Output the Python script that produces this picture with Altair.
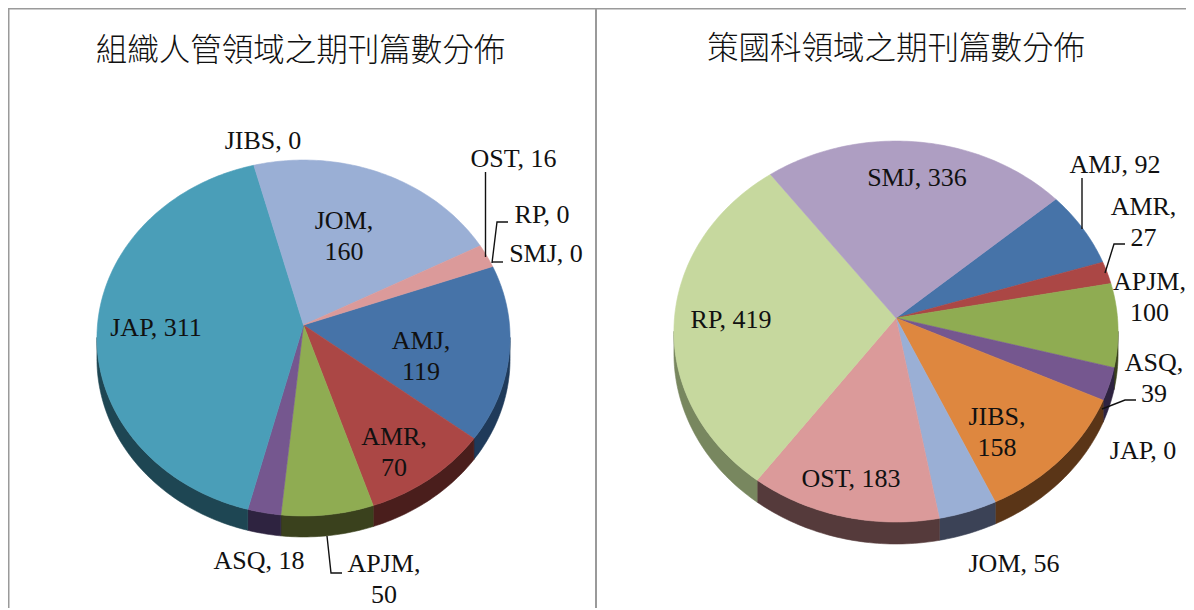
import math
import altair as alt
import pandas as pd

# ---- data ----
categories = ["AMJ", "AMR", "APJM", "ASQ", "JAP", "JIBS", "JOM", "OST", "RP", "SMJ"]
org_values = [119, 70, 50, 18, 311, 0, 160, 16, 0, 0]
strategy_values = [92, 27, 100, 39, 0, 158, 56, 183, 419, 336]
org_title = "組織人管領域之期刊篇數分佈"
strategy_title = "策國科領域之期刊篇數分佈"
top_colors = ["#4673A8", "#AB4745", "#8FAC52", "#75578F", "#4A9EB8", "#DE873F",
              "#9AAFD5", "#DB9A9A", "#C6D89E", "#AE9EC2"]
side_colors = ["#1F3A5A", "#4A1E1C", "#3A411D", "#2E2340", "#1E4653", "#5A3517",
               "#3B4256", "#553A3B", "#78875F", "#5A5068"]

# ---- layout (image pixels) ----
LEFT = dict(cx=303.5, cy=325, R=206, B=177, k=0.073, depth=21, start=70.2)
RIGHT = dict(cx=896, cy=318, R=221.5, B=189.5, k=0.071, depth=22, start=49)
W, H = 1178, 600
SERIF = "Liberation Serif"
CJK = "Noto Sans CJK TC"

labels = [("JIBS, 0", 263, 141), ("OST, 16", 513.5, 159), ("RP, 0", 542, 215),
          ("SMJ, 0", 546, 254), ("JOM,\n160", 344, 221), ("AMJ,\n119", 421, 341),
          ("AMR,\n70", 394, 437), ("JAP, 311", 156, 328), ("ASQ, 18", 259, 561),
          ("APJM,\n50", 384, 564),
          ("SMJ, 336", 917, 178), ("AMJ, 92", 1115, 165), ("AMR,\n27", 1143.5, 207),
          ("APJM,\n100", 1149.5, 282), ("ASQ,\n39", 1154, 363), ("JAP, 0", 1143, 451),
          ("JIBS,\n158", 997, 417), ("OST, 183", 851, 479), ("JOM, 56", 1014, 564),
          ("RP, 419", 731, 320)]
leaders = [[(485.5, 172), (485.5, 257)],
           [(492, 263), (497, 222), (508, 222)],
           [(492, 262), (503, 262)],
           [(327, 536), (331, 573), (342, 573)],
           [(1082, 178), (1082, 229)],
           [(1105, 273), (1114, 244), (1125, 244)],
           [(1102, 409), (1125, 400), (1136, 400)]]
borders = [[(8.5, 608), (8.5, 8.5), (1186, 8.5)], [(596, 8.5), (596, 608)]]
titles = [(org_title, 300.5, 52), (strategy_title, 896, 50)]


def point(g, deg, drop=0.0):
    # perspective view of the tilted disc: the far side is compressed
    t = math.radians(deg)
    s, c = math.sin(t), math.cos(t)
    w = 1 + g["k"] * c
    return g["cx"] + g["R"] * s / w, g["cy"] - g["B"] * c / w + drop


def geometry(values, g, tag):
    total = sum(values)
    tops, sides = [], []
    a = g["start"]
    for name, v, tc, sc in zip(categories, values, top_colors, side_colors):
        sweep = 360.0 * v / total
        if v > 0:
            n = max(2, int(sweep) + 2)
            angs = [a + sweep * i / (n - 1) for i in range(n)]
            pts = [(g["cx"], g["cy"])] + [point(g, d) for d in angs] + [(g["cx"], g["cy"])]
            for i, (x, y) in enumerate(pts):
                tops.append(dict(key=tag + name, c=tc, i=i, x=x, y=y))
            for shift in (0, 360):
                l2, h2 = max(a, 94 + shift), min(a + sweep, 266 + shift)
                if h2 > l2:
                    m = max(2, int(h2 - l2) + 2)
                    angs = [l2 + (h2 - l2) * i / (m - 1) for i in range(m)]
                    ring = [point(g, d) for d in angs] + \
                           [point(g, d, g["depth"]) for d in reversed(angs)]
                    ring.append(ring[0])
                    for i, (x, y) in enumerate(ring):
                        sides.append(dict(key=tag + name + str(shift), c=sc, i=i, x=x, y=y))
        a += sweep
    return tops, sides


t1, s1 = geometry(org_values, LEFT, "L")
t2, s2 = geometry(strategy_values, RIGHT, "R")
tops = pd.DataFrame(t1 + t2)
sides = pd.DataFrame(s1 + s2)

X = alt.X("x:Q", scale=alt.Scale(domain=[8, 8 + W], nice=False, zero=False), axis=None)
Y = alt.Y("y:Q", scale=alt.Scale(domain=[8 + H, 8], nice=False, zero=False), axis=None)


def poly(df):
    return alt.Chart(df).mark_line(filled=True, strokeWidth=0.6).encode(
        x=X, y=Y,
        color=alt.Color("c:N", scale=None),
        stroke=alt.Stroke("c:N", scale=None),
        detail="key:N", order="i:Q")


def polyline(lines):
    return pd.DataFrame([dict(k=k, i=i, x=p[0], y=p[1])
                         for k, line in enumerate(lines) for i, p in enumerate(line)])


border_l = alt.Chart(polyline(borders)).mark_line(color="#9A9A9A", strokeWidth=2).encode(
    x=X, y=Y, detail="k:N", order="i:Q")
lead_l = alt.Chart(polyline(leaders)).mark_line(color="#111111", strokeWidth=1.4).encode(
    x=X, y=Y, detail="k:N", order="i:Q")
lab_l = alt.Chart(pd.DataFrame(labels, columns=["t", "x", "y"])).mark_text(
    font=SERIF, fontSize=26, color="#111111", lineBreak="\n", lineHeight=30.5,
    align="center", baseline="middle").encode(x=X, y=Y, text="t:N")
ttl_l = alt.Chart(pd.DataFrame(titles, columns=["t", "x", "y"])).mark_text(
    font=CJK, fontSize=31.5, fontWeight=300, color="#111111", align="center",
    baseline="middle").encode(x=X, y=Y, text="t:N")

chart = alt.layer(border_l, poly(sides), poly(tops), lead_l, lab_l, ttl_l).properties(
    width=W, height=H, padding=0,
    autosize=alt.AutoSizeParams(type="none", contains="padding"),
    background="white").configure_view(stroke=None)
chart.save("out.html", embed_options={"renderer": "svg", "actions": False})
